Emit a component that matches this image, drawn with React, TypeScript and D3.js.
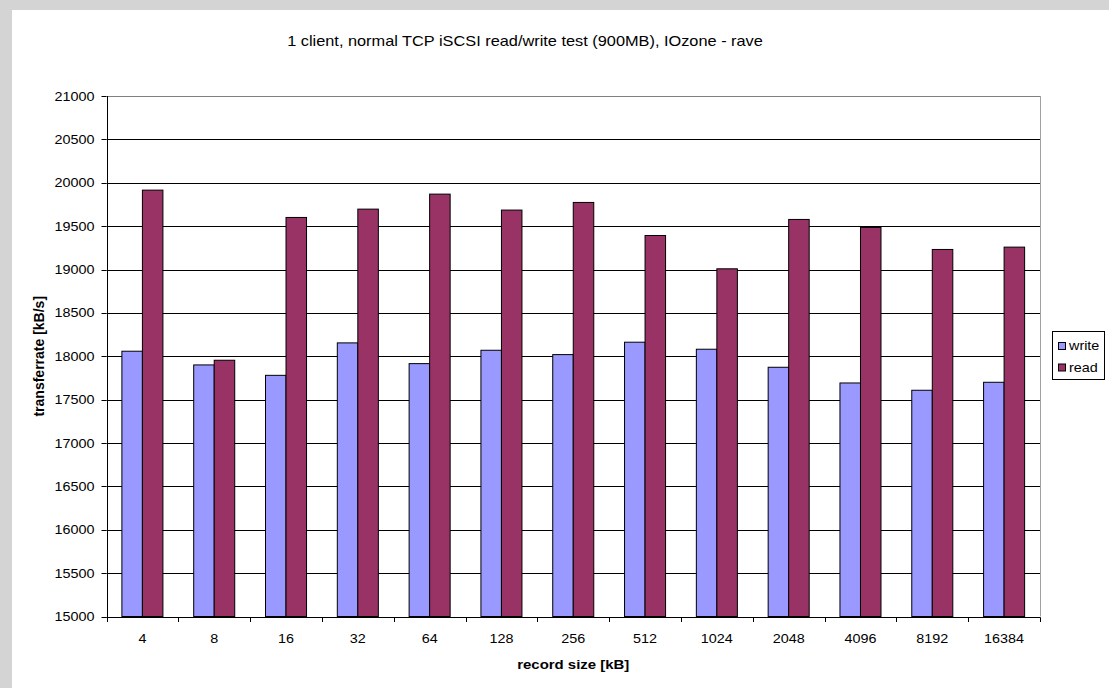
import React from "react";
import * as d3 from "d3";

// Record sizes tested (kB) and measured transfer rates (kB/s)
const recordSizes: string[] = ["4", "8", "16", "32", "64", "128", "256", "512", "1024", "2048", "4096", "8192", "16384"];
const writeRates: number[] = [18058, 17900, 17780, 18154, 17915, 18069, 18019, 18162, 18081, 17873, 17692, 17608, 17700];
const readRates: number[] = [19915, 17954, 19600, 19696, 19869, 19685, 19773, 19392, 19008, 19577, 19485, 19231, 19258];
const seriesNames: string[] = ["write", "read"];
const seriesColors: string[] = ["#9999FF", "#993366"];
const yTicks: number[] = d3.range(15000, 21001, 500);

const W = 1109;
const H = 688;
const FONT = "'Liberation Sans', Arial, Helvetica, sans-serif";
const SX = 1.15;

export default function App() {
  const left = 106.5;
  const right = 1040;
  const top = 96;
  const bottom = 616.5;

  const x = d3
    .scaleBand<string>()
    .domain(recordSizes)
    .range([left, right])
    .paddingInner(1.5 / 3.5)
    .paddingOuter(0.75 / 3.5);
  const xs = d3.scaleBand<string>().domain(seriesNames).range([0, x.bandwidth()]);
  const y = d3.scaleLinear().domain([15000, 21000]).range([bottom, top]);
  const step = x.step();
  const series = [writeRates, readRates];

  const crisp = (v: number) => Math.round(v) + 0.5;

  return (
    <svg
      width={W}
      height={H}
      style={{ position: "absolute", left: 0, top: 0, display: "block" }}
      fontFamily={FONT}
    >
      <rect x={0} y={0} width={W} height={H} fill="#d4d4d4" />
      <rect x={12} y={10} width={W - 12} height={H - 10} fill="#ffffff" />

      {/* title */}
      <text
        transform={`translate(525,45.5) scale(${SX},1)`}
        textAnchor="middle"
        fontSize={14.2}
        fill="#000"
      >
        1 client, normal TCP iSCSI read/write test (900MB), IOzone - rave
      </text>

      {/* gridlines */}
      {yTicks.map((t) => (
        <line
          key={"g" + t}
          x1={left}
          x2={right}
          y1={crisp(y(t))}
          y2={crisp(y(t))}
          stroke={t === 21000 ? "#808080" : "#000"}
          strokeWidth={1}
        />
      ))}
      {/* plot area right border */}
      <line x1={crisp(right)} x2={crisp(right)} y1={top} y2={bottom} stroke="#a0a0a0" strokeWidth={1} />

      {/* bars */}
      {recordSizes.map((c, i) => (
        <g key={"b" + c}>
          {series.map((vals, s) => {
            const bx = (x(c) as number) + (xs(seriesNames[s]) as number);
            const by = y(vals[i]);
            return (
              <rect
                key={s}
                x={bx}
                y={by}
                width={xs.bandwidth()}
                height={y(15000) - by}
                fill={seriesColors[s]}
                stroke="#000"
                strokeWidth={1}
              />
            );
          })}
        </g>
      ))}

      {/* y axis */}
      <line x1={crisp(left)} x2={crisp(left)} y1={top} y2={crisp(bottom)} stroke="#000" />
      {yTicks.map((t) => (
        <g key={"y" + t}>
          <line x1={left - 5} x2={left} y1={crisp(y(t))} y2={crisp(y(t))} stroke="#000" />
          <text
            transform={`translate(${left - 12},${y(t) + 4.5}) scale(${SX},1)`}
            textAnchor="end"
            fontSize={12.5}
            fill="#000"
          >
            {t}
          </text>
        </g>
      ))}

      {/* x axis */}
      <line x1={left} x2={right + 0.5} y1={crisp(bottom)} y2={crisp(bottom)} stroke="#000" />
      {d3.range(recordSizes.length + 1).map((i) => (
        <line
          key={"xt" + i}
          x1={crisp(left + i * step)}
          x2={crisp(left + i * step)}
          y1={crisp(bottom)}
          y2={bottom + 5.5}
          stroke="#000"
        />
      ))}
      {recordSizes.map((c) => (
        <text
          key={"xl" + c}
          transform={`translate(${(x(c) as number) + x.bandwidth() / 2},643) scale(${SX},1)`}
          textAnchor="middle"
          fontSize={12.5}
          fill="#000"
        >
          {c}
        </text>
      ))}

      {/* axis titles */}
      <text
        transform={`translate(${(left + right) / 2},669) scale(${SX},1)`}
        textAnchor="middle"
        fontSize={13}
        fontWeight="bold"
        fill="#000"
      >
        record size [kB]
      </text>
      <text
        transform={`translate(44,${(top + bottom) / 2}) rotate(-90)`}
        textAnchor="middle"
        fontSize={14}
        fontWeight="bold"
        fill="#000"
      >
        transferrate [kB/s]
      </text>

      {/* legend */}
      <rect x={1052.5} y={331.5} width={52} height={48} fill="#fff" stroke="#000" strokeWidth={1} />
      {seriesNames.map((n, i) => (
        <g key={"l" + n}>
          <rect
            x={1058.5}
            y={342.5 + i * 21.5}
            width={7}
            height={7}
            fill={seriesColors[i]}
            stroke="#000"
            strokeWidth={1}
          />
          <text
            transform={`translate(1069,${350 + i * 21.5}) scale(${SX},1)`}
            fontSize={12.5}
            fill="#000"
          >
            {n}
          </text>
        </g>
      ))}
    </svg>
  );
}
